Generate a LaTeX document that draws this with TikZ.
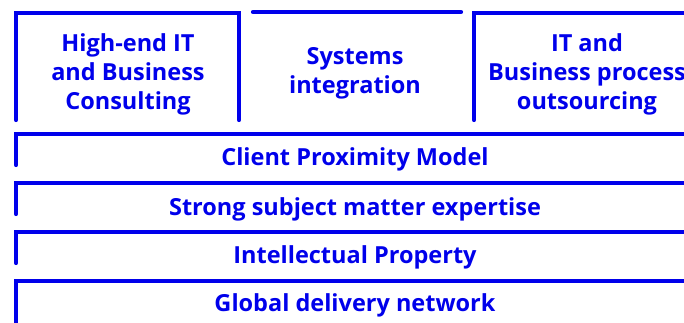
\documentclass[tikz,border=0pt]{standalone}
\usepackage{fontspec}
\setmainfont{Open Sans}
\definecolor{ibmblue}{RGB}{0,0,235}
\begin{document}
\begin{tikzpicture}[x=1pt,y=-1pt,
  frame/.style={draw=ibmblue,line width=4.2pt,line cap=round,line join=miter},
  label/.style={text=ibmblue,font=\bfseries\fontsize{23.5}{29}\selectfont,align=center,inner sep=0pt}]
\useasboundingbox (0,0) rectangle (684,323);
\clip (0,0) rectangle (684,323);
% top boxes
\draw[frame] (16,120) -- (16,13) -- (239,13) -- (239,120);
\draw[frame] (253,12) -- (461,12);
\draw[frame] (474,120) -- (474,13) -- (720,13);
% rows
\draw[frame] (16,165) -- (16,134) -- (720,134);
\draw[frame] (16,214) -- (16,183) -- (720,183);
\draw[frame] (16,263) -- (16,232) -- (720,232);
\draw[frame] (16,340) -- (16,281) -- (720,281);
% labels
\node[label] (cons) at (128,74) {High-end IT\\and Business\\Consulting};
\node[label] (sys) at (355,73) {Systems\\integration};
\node[label] (out) at (587,74) {IT and\\Business process\\outsourcing};
\node[label] (cpm) at (355,159) {Client Proximity Model};
\node[label] (ssm) at (355,209) {Strong subject matter expertise};
\node[label] (ip) at (355,257) {Intellectual Property};
\node[label] (gdn) at (355,305) {Global delivery network};
\end{tikzpicture}
\end{document}
